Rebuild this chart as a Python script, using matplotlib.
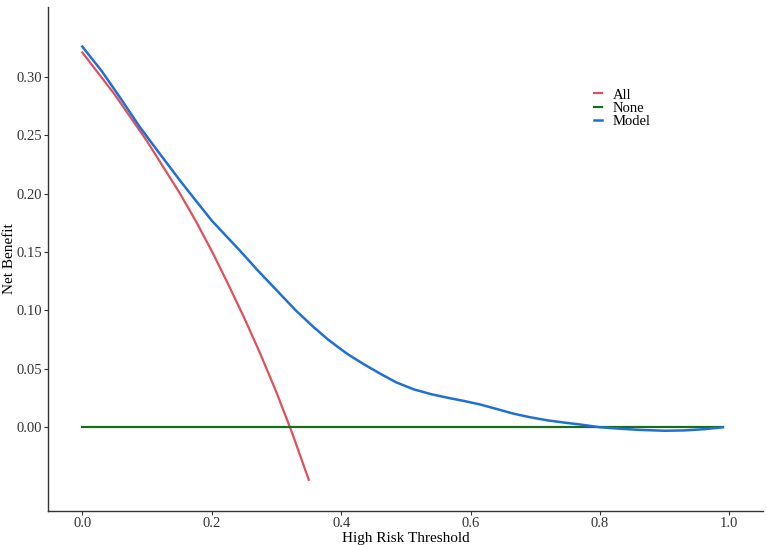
import matplotlib
matplotlib.use("Agg")
import matplotlib.pyplot as plt

plt.rcParams['font.family'] = ['Liberation Serif', 'DejaVu Serif']

# Threshold probabilities and net benefit
thr_all = [0.0, 0.025, 0.05, 0.075, 0.10, 0.125, 0.15, 0.175, 0.20,
           0.225, 0.25, 0.275, 0.30, 0.325, 0.35]
nb_all = [0.321, 0.303, 0.285, 0.265, 0.245, 0.223, 0.201, 0.177, 0.151,
          0.123, 0.094, 0.063, 0.030, -0.006, -0.045]

thr_none = [0.0, 0.99]
nb_none = [0.0, 0.0]

thr_model = [0.0, 0.03, 0.06, 0.089, 0.12, 0.15, 0.167, 0.20, 0.244, 0.27,
             0.306, 0.33, 0.357, 0.38, 0.409, 0.435, 0.46, 0.485, 0.512,
             0.54, 0.567, 0.59, 0.615, 0.64, 0.666, 0.69, 0.718, 0.745,
             0.769, 0.80, 0.83, 0.86, 0.90, 0.93, 0.96, 0.99]
nb_model = [0.326, 0.305, 0.281, 0.257, 0.234, 0.212, 0.200, 0.177, 0.151,
            0.135, 0.114, 0.100, 0.086, 0.075, 0.063, 0.054, 0.046, 0.0385,
            0.0325, 0.0282, 0.025, 0.0225, 0.0195, 0.0157, 0.0117, 0.0088,
            0.006, 0.004, 0.0024, 0.0, -0.0012, -0.0022, -0.003, -0.0027,
            -0.0017, 0.0]

x_ticks = [0.0, 0.2, 0.4, 0.6, 0.8, 1.0]
y_ticks = [0.00, 0.05, 0.10, 0.15, 0.20, 0.25, 0.30]

fig = plt.figure(figsize=(7.67, 5.45), dpi=100)
ax = fig.add_axes([0.0626, 0.0624, 0.9322, 0.925])

ax.plot(thr_all, nb_all, color='#e0505a', lw=1.6, label='All',
        solid_joinstyle='round')
ax.plot(thr_none, nb_none, color='#1a6e1a', lw=1.6, label='None')
ax.plot(thr_model, nb_model, color='#1f6fd6', lw=1.8, label='Model',
        solid_joinstyle='round')

ax.set_xlim(-0.053, 1.052)
ax.set_ylim(-0.0717, 0.360)
ax.set_xticks(x_ticks)
ax.set_xticklabels([f'{v:.1f}' for v in x_ticks])
ax.set_yticks(y_ticks)
ax.set_yticklabels([f'{v:.2f}' for v in y_ticks])

for side in ['top', 'right']:
    ax.spines[side].set_visible(False)
for side in ['left', 'bottom']:
    ax.spines[side].set_color('#333333')
    ax.spines[side].set_linewidth(1.0)
ax.tick_params(axis='both', direction='out', length=3, width=0.8,
               colors='#333333', labelsize=10.5, pad=1.5)

ax.set_xlabel('High Risk Threshold', fontsize=11, labelpad=1)
ax.set_ylabel('Net Benefit', fontsize=11)
ax.yaxis.set_label_coords(-0.045, 0.5)

ax.legend(loc='upper left', bbox_to_anchor=(0.755, 0.85), frameon=False,
          fontsize=10.5, handlelength=0.6, handletextpad=0.7,
          labelspacing=0.0, borderaxespad=0)

fig.savefig('out.png', dpi=100)
